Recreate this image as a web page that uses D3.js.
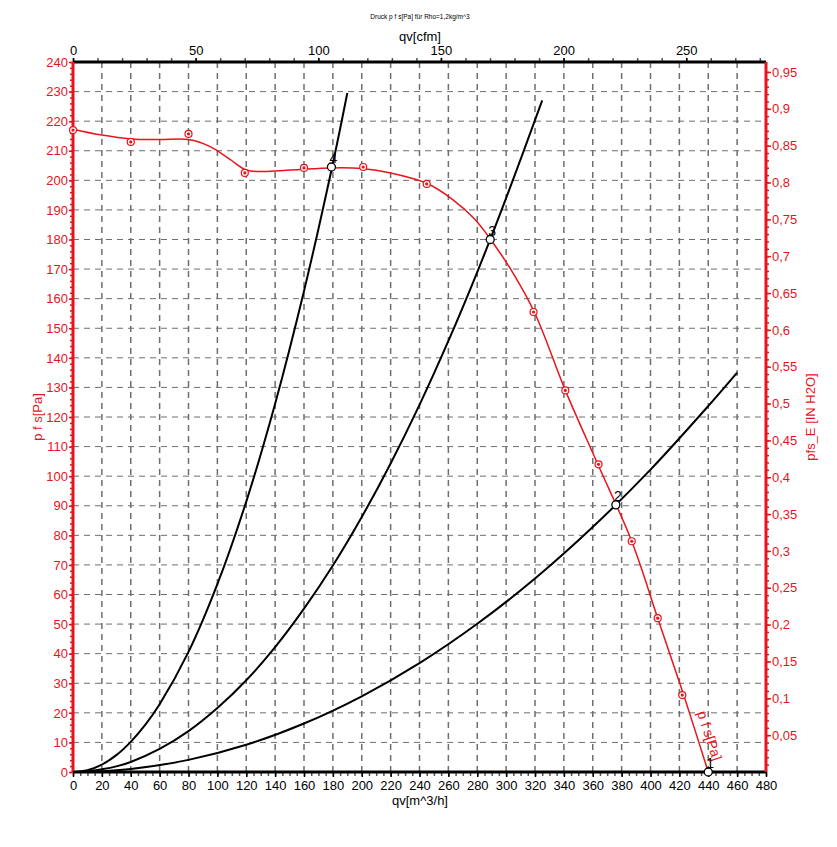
<!DOCTYPE html>
<html>
<head>
<meta charset="utf-8">
<script src="https://cdn.jsdelivr.net/npm/d3@7/dist/d3.min.js"></script>
<style>
  body { margin: 0; background: #fff; }
  text { font-family: "Liberation Sans", Arial, sans-serif; }
</style>
</head>
<body>
<div id="chart"></div>
<script>
"use strict";

// fan curve p f s [Pa] over qv [m^3/h]
var fanFlow     = [0, 20, 40, 60, 80, 95, 109, 120, 134, 157, 180, 200, 220, 245, 263, 278, 290, 305, 320, 341, 364, 387, 405, 423, 440];
var fanPressure = [217.3, 215.3, 214, 213.8, 213.8, 211.4, 207, 203.5, 203, 203.7, 204.2, 204, 202.5, 199, 193.5, 187, 179.5, 168.5, 155, 129, 103.5, 78, 52, 26, 0];

// measured points on the fan curve
var markFlow     = [0, 40, 80, 119, 160, 201, 245, 319, 341, 364, 387, 405, 422];
var markPressure = [217, 213, 215.7, 202.5, 204.2, 204.5, 198.8, 155.5, 129, 104, 78, 52, 26];

// operating points
var opLabels   = ["1", "2", "3", "4"];
var opFlow     = [440, 376, 289, 179];
var opPressure = [0, 90.3, 180, 204.5];

// system curves
var sys2Flow     = [0, 10, 20, 40, 80, 120, 160, 200, 240, 280, 320, 360, 400, 440, 460];
var sys2Pressure = [0, 0.06, 0.26, 1, 4.1, 9.2, 16.4, 25.6, 36.8, 50.1, 65.4, 82.8, 102.2, 123.7, 135];
var sys3Flow     = [0, 10, 20, 30, 40, 60, 80, 100, 120, 140, 160, 180, 200, 220, 240, 260, 280, 300, 325];
var sys3Pressure = [0, 0.2, 0.9, 1.9, 3.4, 7.8, 13.8, 21.6, 31, 42.2, 55.2, 69.8, 86.2, 104.3, 124.1, 145.7, 169, 194, 227];
var sys4Flow     = [0, 10, 20, 30, 40, 50, 60, 80, 100, 120, 140, 160, 180, 190];
var sys4Pressure = [0, 0.6, 2.5, 5.7, 10.2, 15.9, 22.9, 40.6, 63.5, 91.4, 124.5, 162.6, 205.7, 229.5];

// axis ticks
var flowTicks  = d3.range(0, 481, 20);
var pressTicks = d3.range(0, 241, 10);
var cfmTicks   = [0, 50, 100, 150, 200, 250];
var inchTicks  = d3.range(1, 20).map(function(i) { return i * 0.05; });

var title = "Druck p f s[Pa] für Rho=1,2kg/m^3";
var CFM = 1.699;     // m^3/h per cfm
var INCH = 249.089;  // Pa per in H2O

var W = 837, H = 847;
var chart = {left: 73, right: 766, top: 62, bottom: 772};
var red = "#e8141c";

var svg = d3.select("#chart").append("svg").attr("width", W).attr("height", H);

var x = d3.scaleLinear().domain([0, 480]).range([chart.left, chart.right]);
var y = d3.scaleLinear().domain([0, 240]).range([chart.bottom, chart.top]);
var xCfm = d3.scaleLinear().domain([0, 480 / CFM]).range([chart.left, chart.right]);
var yInch = d3.scaleLinear().domain([0, 240 / INCH]).range([chart.bottom, chart.top]);

function zip(a, b) {
  return a.map(function(v, i) { return [v, b[i]]; });
}

// grid
var grid = svg.append("g").attr("stroke", "#6e6e6e").attr("stroke-dasharray", "6,5");
grid.selectAll("line.v")
  .data(flowTicks.filter(function(d) { return d > 0 && d < 480; }))
  .enter().append("line")
    .attr("x1", function(d) { return x(d); })
    .attr("x2", function(d) { return x(d); })
    .attr("y1", chart.top).attr("y2", chart.bottom)
    .attr("stroke-width", 1.5);
grid.selectAll("line.h")
  .data(pressTicks.filter(function(d) { return d > 0 && d < 240; }))
  .enter().append("line")
    .attr("y1", function(d) { return y(d); })
    .attr("y2", function(d) { return y(d); })
    .attr("x1", chart.left).attr("x2", chart.right)
    .attr("stroke-width", 1);

function styleAxis(g, color) {
  g.select(".domain").remove();
  g.selectAll("line").attr("stroke", color).attr("stroke-width", 1.5);
  g.selectAll("text").attr("fill", color).style("font-size", "13px")
    .style("font-family", '"Liberation Sans", Arial, sans-serif');
}

// bottom axis
svg.append("g").attr("transform", "translate(0," + chart.bottom + ")")
  .call(d3.axisBottom(x).tickValues(d3.range(0, 481, 5)).tickSize(4).tickFormat(""))
  .call(styleAxis, "#555");
svg.append("g").attr("transform", "translate(0," + chart.bottom + ")")
  .call(d3.axisBottom(x).tickValues(flowTicks).tickSize(5).tickPadding(4))
  .call(styleAxis, "#000");

// top axis
svg.append("g").attr("transform", "translate(0," + chart.top + ")")
  .call(d3.axisTop(xCfm).tickValues(d3.range(0, 281, 10)).tickSize(4).tickFormat(""))
  .call(styleAxis, "#555");
svg.append("g").attr("transform", "translate(0," + chart.top + ")")
  .call(d3.axisTop(xCfm).tickValues(cfmTicks).tickSize(4).tickPadding(3))
  .call(styleAxis, "#000");

// left axis
svg.append("g").attr("transform", "translate(" + chart.left + ",0)")
  .call(d3.axisLeft(y).tickValues(d3.range(0, 241, 2)).tickSize(3).tickFormat(""))
  .call(styleAxis, red);
svg.append("g").attr("transform", "translate(" + chart.left + ",0)")
  .call(d3.axisLeft(y).tickValues(pressTicks).tickSize(4).tickPadding(1))
  .call(styleAxis, red);

// right axis
svg.append("g").attr("transform", "translate(" + chart.right + ",0)")
  .call(d3.axisRight(yInch).tickValues(d3.range(1, 96).map(function(i) { return i / 100; })).tickSize(3).tickFormat(""))
  .call(styleAxis, red);
svg.append("g").attr("transform", "translate(" + chart.right + ",0)")
  .call(d3.axisRight(yInch).tickValues(inchTicks).tickSize(5).tickPadding(1)
    .tickFormat(function(d) { return d3.format(".2~f")(d).replace(".", ","); }))
  .call(styleAxis, red);

// frame lines
svg.append("line").attr("x1", chart.left).attr("x2", chart.right)
  .attr("y1", chart.top).attr("y2", chart.top).attr("stroke", "#000").attr("stroke-width", 3);
svg.append("line").attr("x1", chart.left).attr("x2", chart.right)
  .attr("y1", chart.bottom).attr("y2", chart.bottom).attr("stroke", "#000").attr("stroke-width", 3);
svg.append("line").attr("x1", chart.left).attr("x2", chart.left)
  .attr("y1", chart.top).attr("y2", chart.bottom).attr("stroke", red).attr("stroke-width", 3);
svg.append("line").attr("x1", chart.right).attr("x2", chart.right)
  .attr("y1", chart.top).attr("y2", chart.bottom).attr("stroke", red).attr("stroke-width", 3);

// system curves
var curveLine = d3.line()
  .x(function(d) { return x(d[0]); })
  .y(function(d) { return y(d[1]); })
  .curve(d3.curveCatmullRom);
[zip(sys2Flow, sys2Pressure), zip(sys3Flow, sys3Pressure), zip(sys4Flow, sys4Pressure)]
  .forEach(function(pts) {
    svg.append("path").datum(pts)
      .attr("d", curveLine)
      .attr("fill", "none")
      .attr("stroke", "#000")
      .attr("stroke-width", 2);
  });

// fan curve
svg.append("path").datum(zip(fanFlow, fanPressure))
  .attr("d", curveLine)
  .attr("fill", "none")
  .attr("stroke", red)
  .attr("stroke-width", 1.5);

var marks = svg.append("g").selectAll("g")
  .data(zip(markFlow, markPressure))
  .enter().append("g")
    .attr("transform", function(d) { return "translate(" + x(d[0]) + "," + y(d[1]) + ")"; });
marks.append("circle").attr("r", 3.5).attr("fill", "#fff").attr("stroke", red).attr("stroke-width", 1.2);
marks.append("circle").attr("r", 1.6).attr("fill", red);

// curve label, right of the falling end of the fan curve
svg.append("text")
  .attr("transform", "translate(" + (x(428) + 6) + "," + y(20) + ") rotate(72)")
  .attr("fill", red)
  .style("font-size", "14px")
  .text("p f s[Pa]");

// operating points
var ops = svg.append("g").selectAll("g")
  .data(opLabels.map(function(l, i) { return {label: l, q: opFlow[i], p: opPressure[i]}; }))
  .enter().append("g")
    .attr("transform", function(d) { return "translate(" + x(d.q) + "," + y(d.p) + ")"; });
ops.append("circle").attr("r", 4).attr("fill", "#fff").attr("stroke", "#000").attr("stroke-width", 1.3);
ops.append("text")
  .attr("x", 2).attr("y", -4)
  .style("font-size", "14px")
  .attr("text-anchor", "middle")
  .text(function(d) { return d.label; });

// titles
svg.append("text").attr("x", 420).attr("y", 19).attr("text-anchor", "middle")
  .style("font-size", "6.5px").text(title);
svg.append("text").attr("x", 420).attr("y", 41).attr("text-anchor", "middle")
  .style("font-size", "13px").text("qv[cfm]");
svg.append("text").attr("x", 420).attr("y", 805).attr("text-anchor", "middle")
  .style("font-size", "13px").text("qv[m^3/h]");
svg.append("text")
  .attr("transform", "translate(42,417) rotate(-90)")
  .attr("text-anchor", "middle").attr("fill", red)
  .style("font-size", "13px").text("p f s[Pa]");
svg.append("text")
  .attr("transform", "translate(815,417) rotate(-90)")
  .attr("text-anchor", "middle").attr("fill", red)
  .style("font-size", "13px").text("pfs_E [IN H2O]");
</script>
</body>
</html>
